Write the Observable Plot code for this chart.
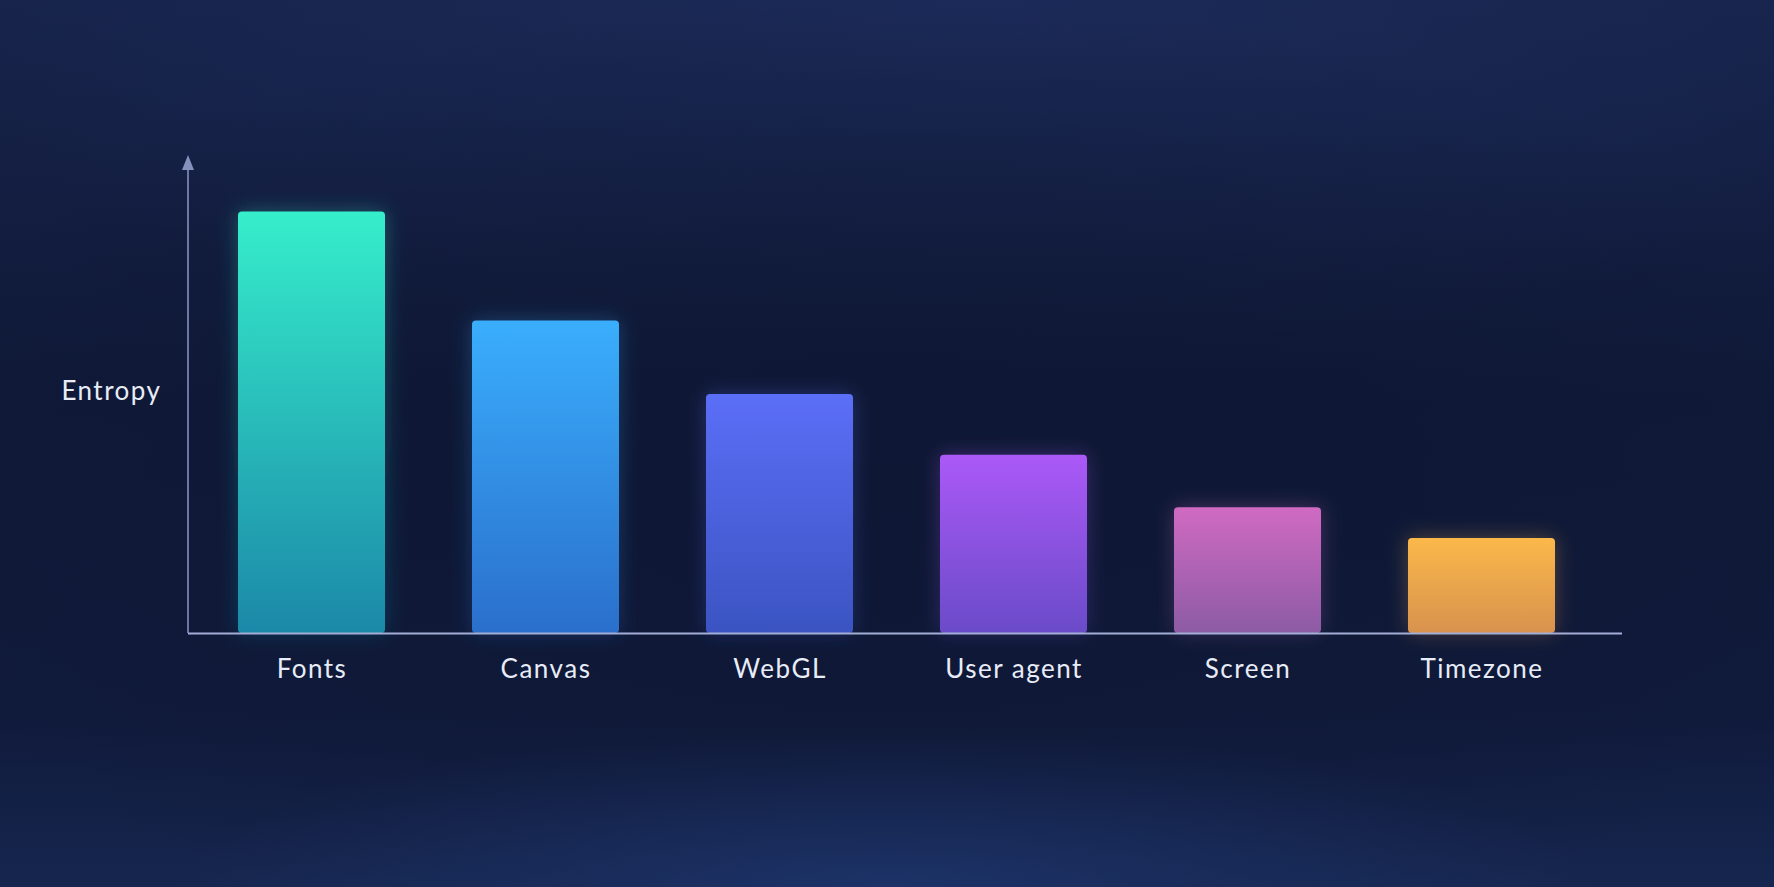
<!DOCTYPE html>
<html>
<head>
<meta charset="utf-8">
<script src="https://cdn.jsdelivr.net/npm/d3@7"></script>
<script src="https://cdn.jsdelivr.net/npm/@observablehq/plot@0.6"></script>
<style>
  html, body { margin: 0; padding: 0; }
  body {
    width: 1774px; height: 887px; overflow: hidden;
    background:
      radial-gradient(ellipse 40% 18% at 50% 100%, rgba(38,70,140,0.45), rgba(38,70,140,0) 100%),
      radial-gradient(ellipse 60% 55% at 50% 55%, #0e1734 0%, rgba(14,23,52,0) 100%),
      radial-gradient(ellipse 60% 40% at 55% 0%, #1b2a58 0%, rgba(27,42,88,0) 100%),
      linear-gradient(180deg, #17234a 0%, #0f1938 45%, #101a3b 80%, #16264f 100%);
    font-family: Lato, "Open Sans", sans-serif;
  }
  #chart { position: absolute; left: 0; top: 0; }
</style>
</head>
<body>
<div id="chart"></div>
<script>
// Data
const categories = ["Fonts", "Canvas", "WebGL", "User agent", "Screen", "Timezone"];
const entropy = [8.82, 6.54, 5.0, 3.73, 2.63, 1.99];
const topColors = ["#36eecb", "#3aaefc", "#5b6ef7", "#ab59f7", "#d06ac2", "#fbb84a"];
const bottomColors = ["#1b88a8", "#2a6fcb", "#3b54c2", "#6a4bc8", "#8c5ba4", "#d8924e"];
const yLabel = "Entropy";

const data = categories.map((c, i) => ({category: c, value: entropy[i], grad: `url(#bar-grad-${i})`}));

const W = 1774, H = 887;
const axisColor = "#8590bd";

function findDims(args) {
  return args.find(a => a && typeof a === "object" && "marginLeft" in a && "width" in a);
}

// defs for gradients
const defsMark = () => {
  const svg = d3.create("svg:g");
  const defs = svg.append("defs");
  categories.forEach((c, i) => {
    const g = defs.append("linearGradient").attr("id", `bar-grad-${i}`)
      .attr("x1", 0).attr("y1", 0).attr("x2", 0).attr("y2", 1);
    g.append("stop").attr("offset", "0%").attr("stop-color", topColors[i]);
    g.append("stop").attr("offset", "100%").attr("stop-color", bottomColors[i]);
  });
  const f = defs.append("filter").attr("id", "glow").attr("x", "-30%").attr("y", "-30%").attr("width", "160%").attr("height", "160%");
  f.append("feGaussianBlur").attr("stdDeviation", 10);
  return svg.node();
};

// vertical axis with arrow
const yAxisMark = (...args) => {
  const d = findDims(args);
  const x = d.marginLeft;
  const y0 = d.height - d.marginBottom;
  const yTop = d.marginTop;
  const g = d3.create("svg:g");
  g.append("line").attr("x1", x).attr("x2", x).attr("y1", y0).attr("y2", yTop + 8)
    .attr("stroke", axisColor).attr("stroke-width", 1.6);
  g.append("path").attr("d", `M${x},${yTop} L${x - 6},${yTop + 15} L${x + 6},${yTop + 15} Z`)
    .attr("fill", axisColor);
  return g.node();
};

const chart = Plot.plot({
  width: W,
  height: H,
  marginTop: 155,
  marginBottom: 254,
  marginLeft: 188,
  marginRight: 169,
  style: {background: "transparent", color: "#e8ecf7", fontFamily: "Lato, 'Open Sans', sans-serif", overflow: "visible"},
  x: {domain: categories, paddingInner: 0.372, paddingOuter: 0.212, label: null},
  y: {domain: [0, 10], axis: null},
  color: {type: "identity"},
  marks: [
    defsMark,
    // soft glow behind bars
    Plot.barY(data, {x: "category", y: "value", fill: "grad", rx: 4, fillOpacity: 0.3, render: (i, s, v, d, c, next) => { const n = next(i, s, v, d, c); n.setAttribute("filter", "url(#glow)"); return n; }}),
    Plot.barY(data, {x: "category", y: "value", fill: "grad", rx: 4}),
    yAxisMark,
    Plot.ruleY([0], {stroke: "#a3aed6", strokeWidth: 2.2, insetRight: -17}),
    Plot.axisX({tickSize: 0, tickPadding: 26, fontSize: 26, fill: "#e8ecf7", label: null}),
    Plot.text([yLabel], {frameAnchor: "left", dx: -27, dy: -3, textAnchor: "end", fontSize: 26, fill: "#e8ecf7"})
  ]
});

d3.select(chart).selectAll("text").style("letter-spacing", "1.5px");
document.getElementById("chart").appendChild(chart);
</script>
</body>
</html>
